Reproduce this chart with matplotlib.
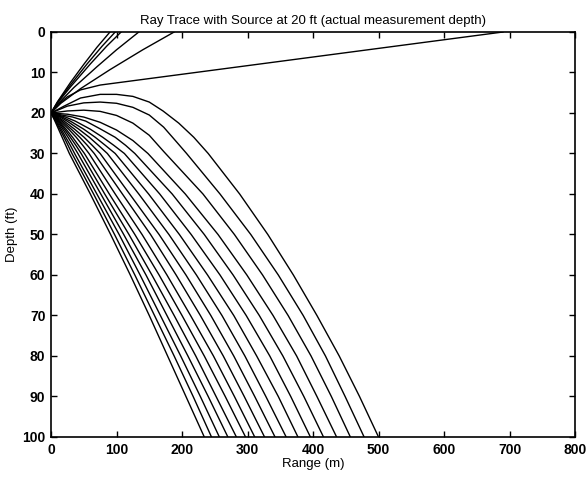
import matplotlib
matplotlib.use("Agg")
import matplotlib.pyplot as plt

plt.rcParams['font.family'] = ['Liberation Sans', 'DejaVu Sans']

# Upward rays (range m, depth ft)
up_ranges = [
    [0, 10, 30, 50, 70, 90],
    [0, 10, 30, 55, 78, 98],
    [0, 10, 30, 60, 85, 107],
    [0, 12, 35, 70, 100, 134],
    [0, 15, 45, 90, 140, 188],
    [0, 10, 25, 45, 75, 690],
]
up_depths = [
    [20, 17.2, 12.4, 8.0, 3.8, 0],
    [20, 17.3, 13.0, 7.9, 3.5, 0],
    [20, 17.5, 13.5, 7.9, 3.5, 0],
    [20, 17.5, 13.7, 8.6, 4.4, 0],
    [20, 17.6, 14.0, 9.3, 4.4, 0],
    [20, 18, 16, 14.3, 13.1, 0],
]

# Downward rays on a common depth grid
grid_depths = [20, 21, 22, 24, 26, 28, 30, 40, 50, 60, 70, 80, 90, 100]
down_ranges = [
    [0, 3, 6, 11.5, 17, 22.5, 28, 60, 91, 121, 150, 178, 206, 234],
    [0, 3.5, 7, 13.5, 20, 26, 32, 65, 97, 128, 158, 188, 217, 245],
    [0, 4, 8, 15.5, 22.5, 29.5, 36, 70, 104, 136, 167, 198, 228, 257],
    [0, 5, 9.5, 18, 26, 33.5, 41, 76, 111, 145, 177, 209, 240, 270],
    [0, 5.5, 11, 20.5, 29.5, 38, 46, 82, 119, 154, 188, 221, 252, 283],
    [0, 6.5, 12.5, 23, 33, 42, 51, 89, 128, 165, 200, 234, 266, 297],
    [0, 7.5, 14.5, 27, 38.5, 48.5, 58, 98, 139, 177, 213, 248, 280, 311],
    [0, 9, 17, 31, 44, 55.5, 66, 109, 152, 191, 228, 263, 295, 326],
    [0, 11, 20, 36, 50.5, 63, 75, 120, 165, 206, 244, 279, 311, 342],
    [0, 14, 24.5, 42.5, 58.5, 72.5, 86, 134, 180, 222, 261, 296, 328, 359],
    [0, 17, 29.5, 50, 67.5, 83, 98, 149, 196, 239, 279, 314, 347, 377],
    [0, 22, 37, 60, 79, 96, 112, 166, 214, 258, 298, 334, 366, 396],
    [0, 33, 53, 76, 98, 114, 128, 185, 234, 278, 318, 354, 386, 416],
]

# Shallow downward rays that rise before bending down
bent_ranges = [
    [0, 25, 50, 75, 100, 125, 148, 205, 255, 299, 339, 375, 406, 436],
    [0, 25, 50, 75, 100, 125, 150, 172, 232, 280, 323, 362, 397, 428, 457],
    [0, 25, 50, 75, 100, 125, 150, 172, 192, 207, 258, 305, 347, 385, 419, 449, 478],
    [0, 20, 45, 75, 100, 125, 150, 171, 195, 218, 240, 288, 331, 370, 406, 440, 471, 500],
]
bent_depths = [
    [20, 20.3, 21, 22.3, 24.2, 26.8, 30, 40, 50, 60, 70, 80, 90, 100],
    [20, 19.5, 19.3, 19.6, 20.6, 22.5, 25.5, 29.5, 40, 50, 60, 70, 80, 90, 100],
    [20, 18.3, 17.5, 17.3, 17.6, 18.6, 20.5, 23.5, 27.2, 30, 40, 50, 60, 70, 80, 90, 100],
    [20, 18.3, 16.3, 15.4, 15.4, 15.9, 17.3, 19.5, 22.5, 26, 30, 40, 50, 60, 70, 80, 90, 100],
]

x_ticks = [0, 100, 200, 300, 400, 500, 600, 700, 800]
y_ticks = [0, 10, 20, 30, 40, 50, 60, 70, 80, 90, 100]

fig = plt.figure(figsize=(5.87, 4.79), dpi=100)
ax = fig.add_axes([0.0869, 0.0877, 0.8927, 0.8455])

lw = 1.0
for xs, ds in zip(up_ranges, up_depths):
    ax.plot(xs, ds, color='black', lw=lw)
for xs in down_ranges:
    ax.plot(xs, grid_depths, color='black', lw=lw)
for xs, ds in zip(bent_ranges, bent_depths):
    ax.plot(xs, ds, color='black', lw=lw)

ax.set_xlim(0, 800)
ax.set_ylim(100, 0)
ax.set_xticks(x_ticks)
ax.set_yticks(y_ticks)
ax.set_xticklabels([str(v) for v in x_ticks], fontsize=10, fontweight='bold')
ax.set_yticklabels([str(v) for v in y_ticks], fontsize=10, fontweight='bold')
ax.tick_params(direction='in', top=True, right=True, length=4, width=1, pad=4)
for s in ax.spines.values():
    s.set_linewidth(1.2)

ax.set_xlabel('Range (m)', fontsize=9.5, labelpad=1)
ax.set_ylabel('Depth (ft)', fontsize=9.5, labelpad=3)
ax.set_title('Ray Trace with Source at 20 ft (actual measurement depth)', fontsize=9.5, pad=6)

fig.savefig('out.png', dpi=100)
